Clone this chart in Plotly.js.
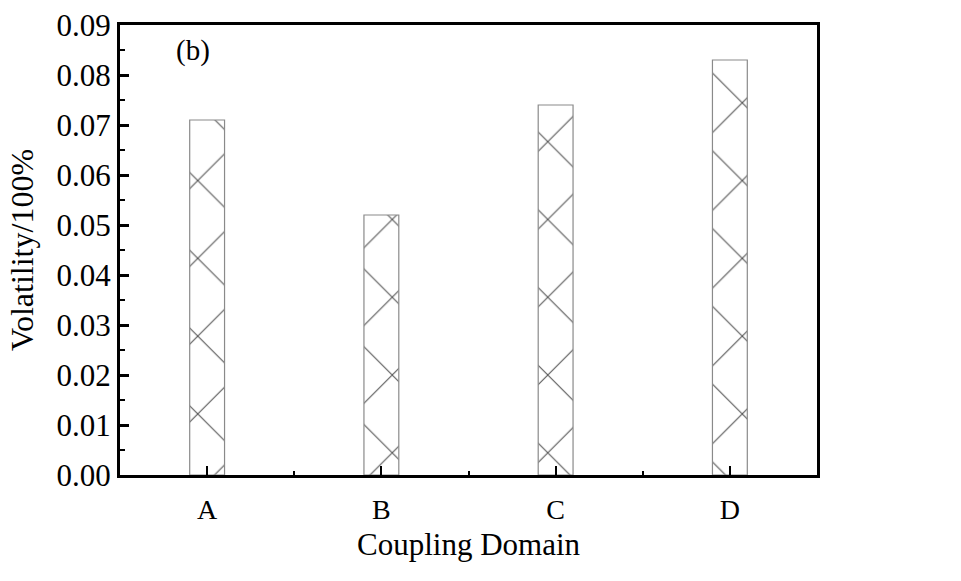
<!DOCTYPE html>
<html>
<head>
<meta charset="utf-8">
<script src="https://cdn.plot.ly/plotly-3.0.1.min.js"></script>
<style>html,body{margin:0;padding:0;background:#fff;}#chart{width:961px;height:581px;}</style>
</head>
<body>
<div id="chart"></div>
<script>
const categories = ["A", "B", "C", "D"];
const volatility = [0.071, 0.052, 0.074, 0.083];
const yTickVals = [0, 0.01, 0.02, 0.03, 0.04, 0.05, 0.06, 0.07, 0.08, 0.09];

const xIdx = categories.map((c, i) => i);
const FONT = "Liberation Serif, Times New Roman, serif";

const trace = {
  type: "bar",
  x: xIdx,
  y: volatility,
  width: 0.2,
  marker: {
    color: "#ffffff",
    line: { color: "#8a8a8a", width: 1.2 },
    pattern: { shape: "x", fgcolor: "#555555", bgcolor: "#ffffff", size: 55, solidity: 0.04 }
  },
  hoverinfo: "x+y"
};

const layout = {
  width: 961, height: 581,
  margin: { l: 120, r: 144, t: 25, b: 106 },
  paper_bgcolor: "#ffffff",
  plot_bgcolor: "#ffffff",
  showlegend: false,
  font: { family: FONT, color: "#000" },
  xaxis: {
    range: [-0.5, 3.5],
    tickmode: "array",
    tickvals: xIdx,
    ticktext: categories,
    ticks: "inside", ticklen: 9, tickwidth: 2, tickcolor: "#000",
    ticklabelstandoff: 7,
    minor: { tickmode: "linear", tick0: 0.5, dtick: 1, ticks: "inside", ticklen: 4, tickwidth: 2, tickcolor: "#000" },
    showline: true, linewidth: 3, linecolor: "#000", mirror: true,
    showgrid: false, zeroline: false,
    tickfont: { family: FONT, size: 28 },
    title: { text: "Coupling Domain", font: { family: FONT, size: 31 }, standoff: 10 }
  },
  yaxis: {
    range: [0, 0.09],
    tickmode: "array",
    tickvals: yTickVals,
    tickformat: ".2f",
    ticks: "inside", ticklen: 9, tickwidth: 3, tickcolor: "#000",
    minor: { tickmode: "linear", tick0: 0.005, dtick: 0.01, ticks: "inside", ticklen: 5, tickwidth: 2, tickcolor: "#000" },
    showline: true, linewidth: 3, linecolor: "#000", mirror: true,
    showgrid: false, zeroline: false,
    tickfont: { family: FONT, size: 31 },
    title: { text: "Volatility/100%", font: { family: FONT, size: 32 }, standoff: 14 }
  },
  annotations: [{
    xref: "paper", yref: "paper",
    x: 0.077, y: 0.985, xanchor: "left", yanchor: "top",
    text: "(b)", showarrow: false,
    font: { family: FONT, size: 29, color: "#000" }
  }]
};

Plotly.newPlot("chart", [trace], layout, { displayModeBar: false, staticPlot: true });
</script>
</body>
</html>
